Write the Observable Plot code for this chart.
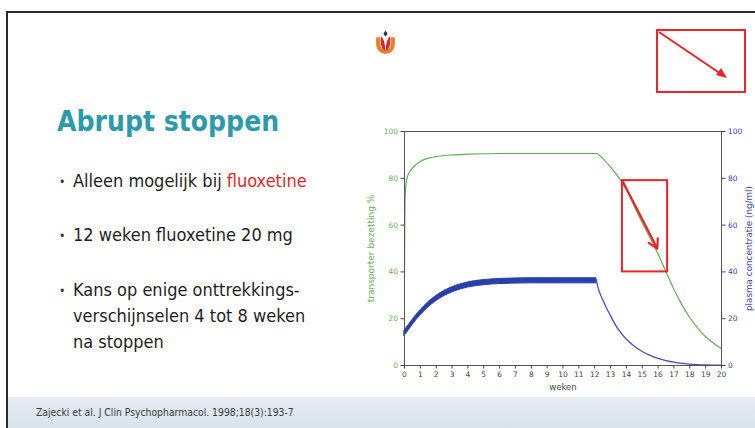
<!DOCTYPE html>
<html><head><meta charset="utf-8">
<script src="https://cdn.jsdelivr.net/npm/d3@7"></script>
<script src="https://cdn.jsdelivr.net/npm/@observablehq/plot@0.6"></script>
<style>
html,body{margin:0;padding:0;background:#fff;}
body{width:755px;height:428px;position:relative;overflow:hidden;font-family:"DejaVu Sans Condensed","DejaVu Sans",sans-serif;font-stretch:condensed;}
.abs{position:absolute;white-space:nowrap;}
#frameTop{left:6px;top:11px;width:760px;height:2px;background:#2b2b2b;}
#frameLeft{left:6px;top:11px;width:2px;height:430px;background:#2b2b2b;}
#footer{left:8px;top:397px;width:760px;height:40px;background:linear-gradient(#e6edf3,#d3dfe9);}
#cite{left:36px;top:406px;font-size:10.3px;line-height:12px;color:#3a3a3a;font-family:"Liberation Sans Narrow","DejaVu Sans Condensed",sans-serif;}
#title{left:57px;top:108px;font-size:28px;line-height:28px;font-weight:bold;color:#2e9aa9;}
.bul{font-size:18px;line-height:26px;color:#1e1e1e;}
.dot{font-size:12px;line-height:26px;color:#333;}
.red{color:#e0262b;}
#chart{left:360px;top:115px;font-stretch:normal;}
#box2{left:656px;top:29px;width:86px;height:60px;border:2px solid #e8262a;}
</style>
</head><body>
<div id="frameTop" class="abs"></div>
<div id="frameLeft" class="abs"></div>
<div id="footer" class="abs"></div>
<div id="cite" class="abs">Zajecki et al. J Clin Psychopharmacol. 1998;18(3):193-7</div>

<svg class="abs" style="left:375px;top:30px" width="21" height="25" viewBox="0 0 20 24">
  <path d="M1 7 L1 14 A9 9 0 0 0 19 14 L19 7 L15 7 L15 14 A5 5 0 0 1 5 14 L5 7 Z" fill="#e8822a"/>
  <path d="M5.5 6 Q10 9 9.6 20 Q5.5 18 5.5 11 Z" fill="#d8262c"/>
  <path d="M14.5 6 Q10 9 10.4 20 Q14.5 18 14.5 11 Z" fill="#d8262c"/>
  <path d="M10 0.5 L12 3.5 L10 6.5 L8 3.5 Z" fill="#1d3550"/>
</svg>

<div id="box2" class="abs">
  <svg width="86" height="60" style="display:block">
    <line x1="1" y1="1" x2="63" y2="43" stroke="#e8262a" stroke-width="2"/>
    <path d="M69 47 L58 44 L63 37 Z" fill="#e8262a"/>
  </svg>
</div>

<div id="title" class="abs">Abrupt stoppen</div>

<div class="abs dot" style="left:59px;top:169px">•</div>
<div class="abs bul" style="left:73px;top:168px">Alleen mogelijk bij <span class="red">fluoxetine</span></div>
<div class="abs dot" style="left:59px;top:223px">•</div>
<div class="abs bul" style="left:73px;top:222px">12 weken fluoxetine 20 mg</div>
<div class="abs dot" style="left:59px;top:278px">•</div>
<div class="abs bul" style="left:73px;top:277px">Kans op enige onttrekkings-</div>
<div class="abs bul" style="left:73px;top:303px">verschijnselen 4 tot 8 weken</div>
<div class="abs bul" style="left:73px;top:329px">na stoppen</div>

<div id="chart" class="abs"></div>

<script>
// transporter occupancy (%), left axis
const weeksOcc  = [0, 0.02, 0.05, 0.1, 0.2, 0.4, 0.7, 1, 1.5, 2, 3, 4, 5, 6, 8, 10, 12.1, 12.5, 13, 13.5, 14, 14.5, 15, 15.5, 16, 16.5, 17, 17.5, 18, 18.5, 19, 19.5, 20];
const occupancy = [41, 62, 74, 78, 81, 83.5, 85.8, 87.2, 88.6, 89.3, 90, 90.3, 90.5, 90.6, 90.6, 90.6, 90.6, 88.5, 84.8, 80.5, 75, 68, 61, 54.5, 47.5, 40, 32.5, 26, 20.5, 16, 12.3, 9.5, 7.2];

// plasma concentration (ng/ml) during daily dosing: trough / peak envelope, right axis
const weeksOn    = [0, 0.25, 0.5, 0.75, 1, 1.5, 2, 2.5, 3, 3.5, 4, 5, 6, 7, 8, 9, 10, 11, 12.1];
const concTrough = [12.6, 14.9, 17.2, 19.4, 21.3, 24.8, 27.5, 29.6, 31.2, 32.4, 33.3, 34.3, 34.8, 35.0, 35.1, 35.1, 35.1, 35.1, 35.1];
const concPeak   = [15.0, 17.1, 19.4, 21.6, 23.5, 27.0, 29.7, 31.8, 33.4, 34.6, 35.5, 36.5, 37.0, 37.2, 37.3, 37.3, 37.3, 37.3, 37.3];

// plasma concentration after stopping
const weeksOff = [12.1, 12.2, 12.35, 12.5, 12.75, 13, 13.25, 13.5, 14, 14.5, 15, 15.5, 16, 16.5, 17, 17.5, 18, 19, 20];
const concOff  = [36.8, 33.5, 30.5, 28.2, 24.5, 21.3, 18.0, 15.3, 11.2, 8.2, 6.0, 4.3, 3.0, 2.1, 1.4, 0.9, 0.6, 0.25, 0.1];

// tick labels
const xTicks = [0,1,2,3,4,5,6,7,8,9,10,11,12,13,14,15,16,17,18,19,20];
const yTicks = [0, 20, 40, 60, 80, 100];

// highlight box and arrow (in data units)
const boxWeeks  = [13.75, 16.6];
const boxLevels = [40, 79];
const arrowFrom = [13.75, 79];
const arrowTo   = [15.95, 50];

const occData  = weeksOcc.map((t, i) => ({t, v: occupancy[i]}));
const bandData = weeksOn.map((t, i) => ({t, lo: concTrough[i], hi: concPeak[i]}));
const offData  = weeksOff.map((t, i) => ({t, v: concOff[i]}));

const green = "#64ab55", greenText = "#6aaf5c", blue = "#2a40a8", blueLine = "#4a4abf", blueText = "#3b3ba6";

const chart = Plot.plot({
  width: 395, height: 290,
  marginLeft: 44, marginRight: 34, marginTop: 16, marginBottom: 40,
  style: {fontFamily: "DejaVu Sans", fontSize: "7.5px", background: "transparent", overflow: "visible"},
  x: {domain: [0, 20]},
  y: {domain: [0, 100]},
  marks: [
    Plot.areaY(bandData, {x: "t", y1: "lo", y2: "hi", fill: blue, stroke: blue, strokeWidth: 1, curve: "monotone-x"}),
    Plot.lineY(offData, {x: "t", y: "v", stroke: blueLine, strokeWidth: 1.3, curve: "monotone-x"}),
    Plot.lineY(occData, {x: "t", y: "v", stroke: green, strokeWidth: 1.2, curve: "monotone-x"}),
    Plot.rect([{x1: boxWeeks[0], x2: boxWeeks[1], y1: boxLevels[0], y2: boxLevels[1]}], {x1: "x1", x2: "x2", y1: "y1", y2: "y2", stroke: "#e8262a", strokeWidth: 2, fill: "none"}),
    Plot.arrow([{x1: arrowFrom[0], y1: arrowFrom[1], x2: arrowTo[0], y2: arrowTo[1]}], {x1: "x1", y1: "y1", x2: "x2", y2: "y2", stroke: "#e8262a", strokeWidth: 2.2, headLength: 7}),
    Plot.frame({stroke: "#555"}),
    Plot.axisX({ticks: xTicks, tickSize: 3.5, tickPadding: 2.5, stroke: "#444", fill: "#444", label: null}),
    Plot.axisY({anchor: "left", ticks: yTicks, tickSize: 3.5, tickPadding: 3, stroke: "#444", fill: greenText, label: null}),
    Plot.axisY({anchor: "right", ticks: yTicks, tickSize: 3.5, tickPadding: 3, stroke: "#444", fill: blueText, label: null}),
    Plot.text(["weken"], {frameAnchor: "bottom", dy: 24, fontSize: 8.5, fill: "#444", text: d => d}),
    Plot.text(["transporter bezetting %"], {frameAnchor: "left", textAnchor: "middle", rotate: -90, dx: -33, fontSize: 9, fill: greenText, text: d => d}),
    Plot.text(["plasma concentratie (ng/ml)"], {frameAnchor: "right", textAnchor: "middle", rotate: -90, dx: 28, fontSize: 8.8, fill: blueText, text: d => d})
  ]
});
document.getElementById("chart").appendChild(chart);
</script>
</body></html>
